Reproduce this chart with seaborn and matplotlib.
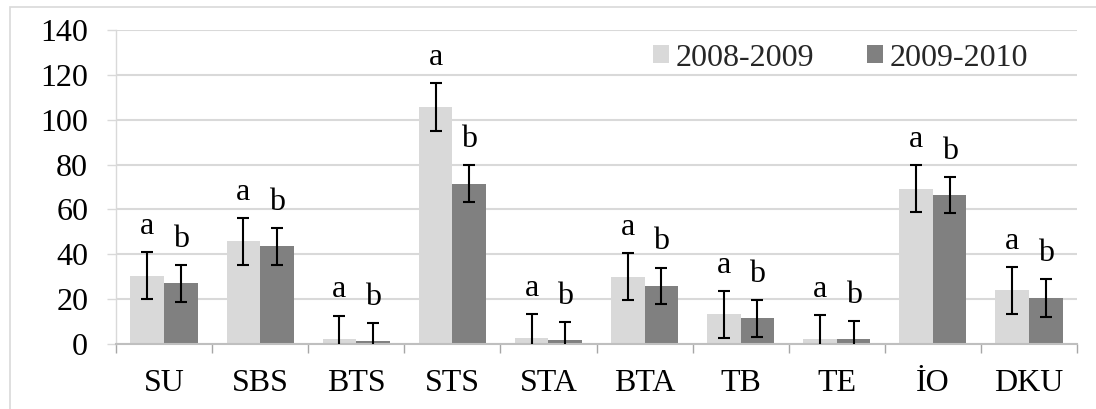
import matplotlib
matplotlib.use("Agg")
import matplotlib.pyplot as plt
from matplotlib.patches import Rectangle
from matplotlib.container import BarContainer
import seaborn as sns
import pandas as pd
import numpy as np

categories = ["SU", "SBS", "BTS", "STS", "STA", "BTA", "TB", "TE", "İO", "DKU"]
seasons = ["2008-2009", "2009-2010"]
values_0809 = [30.5, 45.8, 2.1, 105.5, 2.7, 29.9, 13.2, 2.2, 69.2, 23.9]
values_0910 = [27.0, 43.5, 1.3, 71.5, 1.6, 26.0, 11.4, 2.1, 66.4, 20.5]
err_0809 = [10.6, 10.5, 10.6, 10.7, 10.8, 10.5, 10.6, 10.9, 10.5, 10.6]
err_0910 = [8.2, 8.2, 8.2, 8.2, 8.2, 8.1, 8.2, 8.3, 8.2, 8.3]
letters_0809 = ["a"] * 10
letters_0910 = ["b"] * 10
yticks = [0, 20, 40, 60, 80, 100, 120, 140]

colors = ["#d9d9d9", "#808080"]
FS = 23

sns.set_theme(style="white")
plt.rcParams["font.family"] = ["Liberation Serif", "DejaVu Serif"]

df = pd.DataFrame({
    "category": categories * 2,
    "season": [seasons[0]] * len(categories) + [seasons[1]] * len(categories),
    "value": values_0809 + values_0910,
})

fig = plt.figure(figsize=(10.96, 4.09), dpi=100)
ax = fig.add_axes([116 / 1096, 1 - 344 / 409, (1077 - 116) / 1096, (344 - 30) / 409])

sns.barplot(data=df, x="category", y="value", hue="season", order=categories,
            hue_order=seasons, palette=colors, saturation=1, width=0.70, gap=0,
            errorbar=None, ax=ax, zorder=2, linewidth=0)

errs = [err_0809, err_0910]
vals = [values_0809, values_0910]
letters = [letters_0809, letters_0910]
bar_conts = [c for c in ax.containers if isinstance(c, BarContainer)]
for i, cont in enumerate(bar_conts):
    xs = [b.get_x() + b.get_width() / 2 for b in cont]
    ax.errorbar(xs, vals[i], yerr=errs[i], fmt="none", ecolor="black",
                elinewidth=1.5, capsize=4.5, capthick=1.5, zorder=3)
    for x, v, e, t in zip(xs, vals[i], errs[i], letters[i]):
        ax.annotate(t, (x, v + e), xytext=(0, 13), textcoords="offset points",
                    ha="center", va="baseline", fontsize=FS, color="black")

ax.set_ylim(0, 140)
ax.set_xlim(-0.5, len(categories) - 0.5)
ax.set_yticks(yticks)
ax.set_yticklabels([str(t) for t in yticks])
ax.set_xlabel("")
ax.set_ylabel("")
ax.yaxis.grid(True, color="#d9d9d9", linewidth=1.5)
ax.xaxis.grid(False)
ax.set_axisbelow(True)

for s in ["top", "right"]:
    ax.spines[s].set_visible(False)
ax.spines["left"].set_color("#d9d9d9")
ax.spines["left"].set_linewidth(1.0)
ax.spines["bottom"].set_color("#bfbfbf")
ax.spines["bottom"].set_linewidth(1.5)

ax.tick_params(axis="y", which="major", length=6.5, width=1.0, color="#d9d9d9",
               pad=13.5, labelsize=FS, labelcolor="black", left=True)
ax.tick_params(axis="x", which="major", length=0, pad=18, labelsize=FS,
               labelcolor="black")
ax.set_xticks(np.arange(-0.5, len(categories), 1.0), minor=True)
ax.tick_params(axis="x", which="minor", length=6.5, width=1.0, color="#a6a6a6",
               bottom=True, direction="out")

old = ax.get_legend()
handles = old.legend_handles
labels = [t.get_text() for t in old.get_texts()]
old.remove()
ax.legend(handles, labels, loc="center", bbox_to_anchor=(0.767, 0.858),
          bbox_transform=fig.transFigure, ncol=2, frameon=False, fontsize=FS,
          handlelength=0.5, handleheight=0.5, handletextpad=0.2,
          columnspacing=1.65, borderpad=0, borderaxespad=0)

fig.add_artist(Rectangle((9.5 / 1096, -0.2), 1.2, 1.2 - 7 / 409,
                         transform=fig.transFigure, fill=False,
                         edgecolor="#d9d9d9", linewidth=1.2))

fig.savefig("out.png", dpi=100)
